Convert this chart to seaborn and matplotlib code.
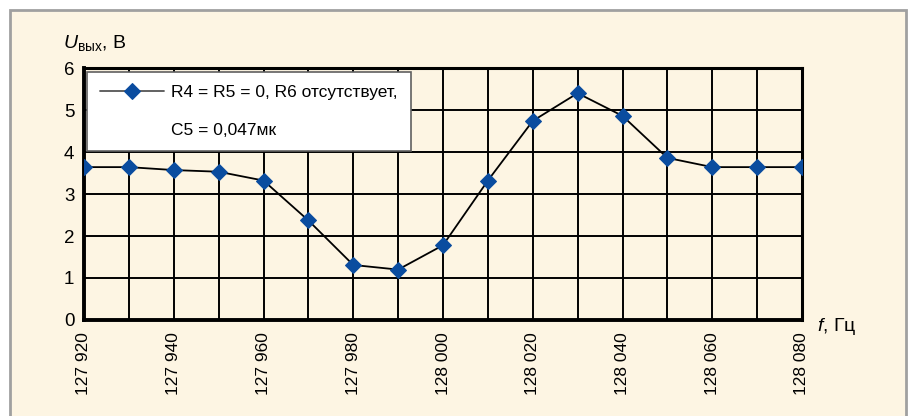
import matplotlib
matplotlib.use("Agg")
import matplotlib.pyplot as plt
import matplotlib.ticker as mticker
from matplotlib.patches import Rectangle
from matplotlib.lines import Line2D
import seaborn as sns
import pandas as pd

# data
freq = [127920, 127930, 127940, 127950, 127960, 127970, 127980, 127990, 128000,
        128010, 128020, 128030, 128040, 128050, 128060, 128070, 128080]
u_out = [3.64, 3.64, 3.57, 3.53, 3.32, 2.37, 1.31, 1.20, 1.78,
         3.32, 4.74, 5.40, 4.86, 3.86, 3.64, 3.64, 3.64]
series_label = "R4 = R5 = 0, R6 отсутствует,\nC5 = 0,047мк"
x_ticks = [127920, 127940, 127960, 127980, 128000, 128020, 128040, 128060, 128080]
y_ticks = [0, 1, 2, 3, 4, 5, 6]

df = pd.DataFrame({"f": freq, "U": u_out, "s": series_label})

cream = "#FDF5E3"
blue = "#0A4C9F"

sns.set_theme(style="ticks")
plt.rcParams["font.family"] = ["Liberation Sans", "DejaVu Sans"]
plt.rcParams["text.color"] = "black"
plt.rcParams["mathtext.fontset"] = "custom"
plt.rcParams["mathtext.rm"] = "Liberation Sans"
plt.rcParams["mathtext.it"] = "Liberation Sans:italic"

fig = plt.figure(figsize=(9.13, 4.16), dpi=100, facecolor="white")
# cream panel with grey frame
fig.patches.append(Rectangle((10 / 913, -0.2), 896 / 913, 1.2 - 10 / 416,
                             transform=fig.transFigure, facecolor=cream,
                             edgecolor="#A0A0A0", lw=2, zorder=-5))

ax = fig.add_axes([84 / 913, 96 / 416, 718 / 913, 252 / 416])
ax.set_facecolor(cream)

sns.lineplot(data=df, x="f", y="U", hue="s", palette=["black"], marker="D",
             markersize=8.5, markerfacecolor=blue, markeredgecolor=blue,
             linewidth=1.3, ax=ax, zorder=3)

ax.set_xlim(127920, 128080)
ax.set_ylim(0, 6)
ax.set_xticks(x_ticks)
ax.xaxis.set_minor_locator(mticker.MultipleLocator(10))
ax.set_yticks(y_ticks)
ax.xaxis.set_major_formatter(mticker.FuncFormatter(
    lambda v, p: f"{int(v) // 1000} {int(v) % 1000:03d}"))
ax.tick_params(axis="x", which="both", length=0, pad=9, labelsize=12.5,
               labelrotation=90, colors="black")
ax.tick_params(axis="y", length=0, pad=7, labelsize=13.5, colors="black")
ax.grid(True, which="both", color="black", lw=1.4)
ax.set_axisbelow(True)
for side in ["left", "bottom"]:
    ax.spines[side].set_linewidth(2.8)
for side in ["top", "right"]:
    ax.spines[side].set_linewidth(2.2)
for sp in ax.spines.values():
    sp.set_color("black")
ax.set_xlabel("")
ax.set_ylabel("")

# legend: marker row on the first line, second line of the label below it
h = ax.get_legend_handles_labels()[0][0]
h.set_color("#555555")
h.set_markerfacecolor(blue)
h.set_markeredgecolor(blue)
lines = series_label.split("\n")
blank = Line2D([], [], linestyle="none")
leg = ax.legend([h, blank], lines, loc="upper left", bbox_to_anchor=(0.004, 0.985),
                borderaxespad=0, fancybox=False, framealpha=1, edgecolor="#606060",
                facecolor="white", fontsize=12.5, handlelength=3.7, handletextpad=0.4,
                borderpad=0.75, labelspacing=1.3)
leg.get_frame().set_linewidth(1.2)

fig.text(63 / 913, 1 - 48 / 416, r"$U_{\mathrm{вых}}$, В", fontsize=14,
         va="baseline", ha="left")
fig.text(817 / 913, 1 - 331 / 416, r"$f$, Гц", fontsize=14,
         va="baseline", ha="left")

fig.savefig("out.png", dpi=100, facecolor="white")
